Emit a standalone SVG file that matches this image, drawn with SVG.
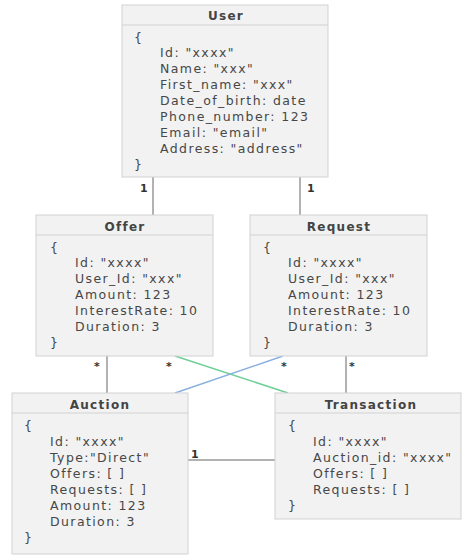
<svg xmlns="http://www.w3.org/2000/svg" width="462" height="557" viewBox="0 0 462 557">
<style>
.box{fill:#f2f2f2;stroke:#d2d2d2;stroke-width:1}
.hdr{stroke:#d2d2d2;stroke-width:1}
.t{font-family:"DejaVu Sans",sans-serif;font-size:12px;font-weight:bold;fill:#444;text-anchor:middle;letter-spacing:1.3px}
.b{font-family:"DejaVu Sans",sans-serif;font-size:12.5px;fill:#474747;letter-spacing:1.4px}
.c{stroke:#999;stroke-width:1.5;fill:none}
.m{font-family:"DejaVu Sans",sans-serif;font-size:11px;font-weight:bold;fill:#333}
</style>
<rect width="462" height="557" fill="#ffffff"/>
<g id="connectors">
<line class="c" x1="153" y1="177" x2="153" y2="215"/>
<line class="c" x1="300" y1="177" x2="300" y2="215"/>
<line class="c" x1="107" y1="356" x2="107" y2="393"/>
<line class="c" x1="346" y1="356" x2="346" y2="393"/>
<line class="c" x1="188" y1="460" x2="275" y2="460"/>
<line x1="175" y1="356" x2="288" y2="393" stroke="#6fcf97" stroke-width="1.5"/>
<line x1="283" y1="356" x2="175" y2="393" stroke="#8ab0e0" stroke-width="1.5"/>
<text class="m" x="140" y="192">1</text>
<text class="m" x="307" y="192">1</text>
<text class="m" x="94" y="370">*</text>
<text class="m" x="166" y="370">*</text>
<text class="m" x="281" y="370">*</text>
<text class="m" x="349" y="370">*</text>
<text class="m" x="191" y="458">1</text>
</g>
<g id="user">
<rect class="box" x="122" y="5" width="206" height="172"/>
<line class="hdr" x1="122" y1="25" x2="328" y2="25"/>
<text class="t" x="226" y="20">User</text>
<text class="b" x="134" y="42">{</text>
<text class="b" x="160" y="57">Id: "xxxx"</text>
<text class="b" x="160" y="73">Name: "xxx"</text>
<text class="b" x="160" y="89">First_name: "xxx"</text>
<text class="b" x="160" y="105">Date_of_birth: date</text>
<text class="b" x="160" y="121">Phone_number: 123</text>
<text class="b" x="160" y="137">Email: "email"</text>
<text class="b" x="160" y="153">Address: "address"</text>
<text class="b" x="134" y="169">}</text>
</g>
<g id="offer">
<rect class="box" x="36" y="215" width="177" height="141"/>
<line class="hdr" x1="36" y1="235" x2="213" y2="235"/>
<text class="t" x="125" y="231">Offer</text>
<text class="b" x="50" y="252">{</text>
<text class="b" x="75" y="267">Id: "xxxx"</text>
<text class="b" x="75" y="283">User_Id: "xxx"</text>
<text class="b" x="75" y="299">Amount: 123</text>
<text class="b" x="75" y="315">InterestRate: 10</text>
<text class="b" x="75" y="331">Duration: 3</text>
<text class="b" x="50" y="347">}</text>
</g>
<g id="request">
<rect class="box" x="250" y="215" width="177" height="141"/>
<line class="hdr" x1="250" y1="235" x2="427" y2="235"/>
<text class="t" x="339" y="231">Request</text>
<text class="b" x="263" y="252">{</text>
<text class="b" x="288" y="267">Id: "xxxx"</text>
<text class="b" x="288" y="283">User_Id: "xxx"</text>
<text class="b" x="288" y="299">Amount: 123</text>
<text class="b" x="288" y="315">InterestRate: 10</text>
<text class="b" x="288" y="331">Duration: 3</text>
<text class="b" x="263" y="347">}</text>
</g>
<g id="auction">
<rect class="box" x="12" y="393" width="176" height="161"/>
<line class="hdr" x1="12" y1="413" x2="188" y2="413"/>
<text class="t" x="100" y="409">Auction</text>
<text class="b" x="24" y="430">{</text>
<text class="b" x="50" y="446">Id: "xxxx"</text>
<text class="b" x="50" y="462">Type:"Direct"</text>
<text class="b" x="50" y="478">Offers: [ ]</text>
<text class="b" x="50" y="494">Requests: [ ]</text>
<text class="b" x="50" y="510">Amount: 123</text>
<text class="b" x="50" y="526">Duration: 3</text>
<text class="b" x="24" y="542">}</text>
</g>
<g id="transaction">
<rect class="box" x="275" y="393" width="186" height="126"/>
<line class="hdr" x1="275" y1="413" x2="461" y2="413"/>
<text class="t" x="371" y="409">Transaction</text>
<text class="b" x="288" y="430">{</text>
<text class="b" x="313" y="446">Id: "xxxx"</text>
<text class="b" x="313" y="462">Auction_id: "xxxx"</text>
<text class="b" x="313" y="478">Offers: [ ]</text>
<text class="b" x="313" y="494">Requests: [ ]</text>
<text class="b" x="288" y="510">}</text>
</g>
</svg>
